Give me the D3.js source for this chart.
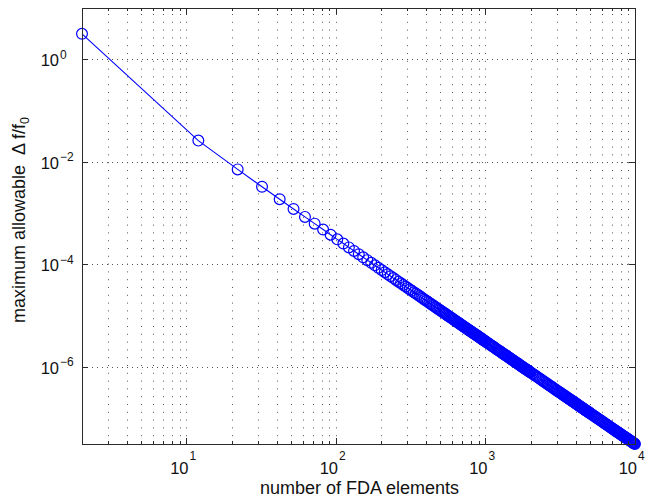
<!DOCTYPE html>
<html>
<head>
<meta charset="utf-8">
<script src="https://cdn.jsdelivr.net/npm/d3@7"></script>
<style>
  body { margin: 0; background: #fff; }
  svg { display: block; }
  text { font-family: "Liberation Sans", Arial, Helvetica, sans-serif; fill: #111; }
</style>
</head>
<body>
<svg id="chart" width="651" height="504"></svg>
<script>
// Number of FDA elements (x) and the largest tolerable relative detuning (y)
const elements = [
  2, 12, 22, 32, 42, 52, 62, 72, 82, 92,
  102, 112, 122, 132, 142, 152, 162, 172, 182, 192,
  202, 212, 222, 232, 242, 252, 262, 272, 282, 292,
  302, 312, 322, 332, 342, 352, 362, 372, 382, 392,
  402, 412, 422, 432, 442, 452, 462, 472, 482, 492,
  502, 512, 522, 532, 542, 552, 562, 572, 582, 592,
  602, 612, 622, 632, 642, 652, 662, 672, 682, 692,
  702, 712, 722, 732, 742, 752, 762, 772, 782, 792,
  802, 812, 822, 832, 842, 852, 862, 872, 882, 892,
  902, 912, 922, 932, 942, 952, 962, 972, 982, 992,
  1002, 1022, 1042, 1062, 1082, 1102, 1122, 1142, 1162, 1182,
  1202, 1222, 1242, 1262, 1282, 1302, 1322, 1342, 1362, 1382,
  1402, 1422, 1442, 1462, 1482, 1502, 1522, 1542, 1562, 1582,
  1602, 1622, 1642, 1662, 1682, 1702, 1722, 1742, 1762, 1782,
  1802, 1822, 1842, 1862, 1882, 1902, 1922, 1942, 1962, 1982,
  2002, 2052, 2102, 2152, 2202, 2252, 2302, 2352, 2402, 2452,
  2502, 2552, 2602, 2652, 2702, 2752, 2802, 2852, 2902, 2952,
  3002, 3052, 3102, 3152, 3202, 3252, 3302, 3352, 3402, 3452,
  3502, 3552, 3602, 3652, 3702, 3752, 3802, 3852, 3902, 3952,
  4002, 4052, 4102, 4152, 4202, 4252, 4302, 4352, 4402, 4452,
  4502, 4552, 4602, 4652, 4702, 4752, 4802, 4852, 4902, 4952,
  5002, 5102, 5202, 5302, 5402, 5502, 5602, 5702, 5802, 5902,
  6002, 6102, 6202, 6302, 6402, 6502, 6602, 6702, 6802, 6902,
  7002, 7102, 7202, 7302, 7402, 7502, 7602, 7702, 7802, 7902,
  8002, 8102, 8202, 8302, 8402, 8502, 8602, 8702, 8802, 8902,
  9002, 9102, 9202, 9302, 9402, 9502, 9602, 9702, 9802, 9902,
  9992
];
const tolerance = [
  3.14, 2.595e-2, 7.120e-3, 3.267e-3, 1.868e-3, 1.207e-3, 8.439e-4, 6.229e-4, 4.786e-4, 3.792e-4,
  3.078e-4, 2.549e-4, 2.145e-4, 1.830e-4, 1.579e-4, 1.377e-4, 1.211e-4, 1.074e-4, 9.585e-5, 8.607e-5,
  7.772e-5, 7.053e-5, 6.429e-5, 5.884e-5, 5.406e-5, 4.984e-5, 4.609e-5, 4.276e-5, 3.977e-5, 3.708e-5,
  3.466e-5, 3.246e-5, 3.047e-5, 2.866e-5, 2.700e-5, 2.549e-5, 2.409e-5, 2.281e-5, 2.163e-5, 2.054e-5,
  1.953e-5, 1.859e-5, 1.772e-5, 1.690e-5, 1.615e-5, 1.544e-5, 1.478e-5, 1.415e-5, 1.357e-5, 1.302e-5,
  1.251e-5, 1.203e-5, 1.157e-5, 1.114e-5, 1.073e-5, 1.034e-5, 9.977e-6, 9.631e-6, 9.302e-6, 8.990e-6,
  8.693e-6, 8.411e-6, 8.142e-6, 7.886e-6, 7.642e-6, 7.409e-6, 7.187e-6, 6.974e-6, 6.771e-6, 6.576e-6,
  6.390e-6, 6.211e-6, 6.040e-6, 5.876e-6, 5.719e-6, 5.567e-6, 5.422e-6, 5.282e-6, 5.148e-6, 5.019e-6,
  4.894e-6, 4.774e-6, 4.658e-6, 4.547e-6, 4.440e-6, 4.336e-6, 4.236e-6, 4.139e-6, 4.046e-6, 3.955e-6,
  3.868e-6, 3.784e-6, 3.702e-6, 3.623e-6, 3.546e-6, 3.472e-6, 3.400e-6, 3.330e-6, 3.263e-6, 3.197e-6,
  3.134e-6, 3.012e-6, 2.898e-6, 2.789e-6, 2.687e-6, 2.590e-6, 2.499e-6, 2.412e-6, 2.330e-6, 2.251e-6,
  2.177e-6, 2.106e-6, 2.039e-6, 1.975e-6, 1.914e-6, 1.855e-6, 1.799e-6, 1.746e-6, 1.695e-6, 1.646e-6,
  1.600e-6, 1.555e-6, 1.512e-6, 1.471e-6, 1.432e-6, 1.394e-6, 1.357e-6, 1.322e-6, 1.289e-6, 1.256e-6,
  1.225e-6, 1.195e-6, 1.166e-6, 1.138e-6, 1.111e-6, 1.085e-6, 1.060e-6, 1.036e-6, 1.013e-6, 9.899e-7,
  9.681e-7, 9.469e-7, 9.265e-7, 9.066e-7, 8.875e-7, 8.689e-7, 8.509e-7, 8.334e-7, 8.165e-7, 8.001e-7,
  7.842e-7, 7.465e-7, 7.113e-7, 6.787e-7, 6.482e-7, 6.197e-7, 5.931e-7, 5.681e-7, 5.447e-7, 5.227e-7,
  5.020e-7, 4.825e-7, 4.641e-7, 4.468e-7, 4.304e-7, 4.149e-7, 4.002e-7, 3.863e-7, 3.731e-7, 3.606e-7,
  3.487e-7, 3.373e-7, 3.265e-7, 3.163e-7, 3.065e-7, 2.971e-7, 2.882e-7, 2.796e-7, 2.715e-7, 2.637e-7,
  2.562e-7, 2.490e-7, 2.421e-7, 2.356e-7, 2.292e-7, 2.232e-7, 2.173e-7, 2.117e-7, 2.063e-7, 2.012e-7,
  1.962e-7, 1.913e-7, 1.867e-7, 1.822e-7, 1.779e-7, 1.738e-7, 1.697e-7, 1.659e-7, 1.621e-7, 1.585e-7,
  1.550e-7, 1.516e-7, 1.483e-7, 1.452e-7, 1.421e-7, 1.391e-7, 1.362e-7, 1.334e-7, 1.307e-7, 1.281e-7,
  1.255e-7, 1.207e-7, 1.161e-7, 1.117e-7, 1.076e-7, 1.038e-7, 1.001e-7, 9.661e-8, 9.331e-8, 9.017e-8,
  8.719e-8, 8.436e-8, 8.166e-8, 7.909e-8, 7.664e-8, 7.430e-8, 7.206e-8, 6.993e-8, 6.789e-8, 6.593e-8,
  6.406e-8, 6.227e-8, 6.055e-8, 5.891e-8, 5.733e-8, 5.581e-8, 5.435e-8, 5.295e-8, 5.160e-8, 5.030e-8,
  4.905e-8, 4.785e-8, 4.669e-8, 4.557e-8, 4.449e-8, 4.345e-8, 4.245e-8, 4.148e-8, 4.054e-8, 3.963e-8,
  3.876e-8, 3.791e-8, 3.709e-8, 3.630e-8, 3.553e-8, 3.479e-8, 3.406e-8, 3.337e-8, 3.269e-8, 3.203e-8,
  3.146e-8
];

// Decade exponents that carry a tick label
const xTickExponents = [1, 2, 3, 4];
const yTickExponents = [0, -2, -4, -6];

const xLabelText = "number of FDA elements";
const yLabelText = "maximum allowable  \u0394 f/f";
const yLabelSub = "0";

const svg = d3.select("#chart");
const W = 651, H = 504;
const m = { left: 82, right: 16, top: 8, bottom: 60 };
const x0 = m.left, x1 = W - m.right, y0 = m.top, y1 = H - m.bottom;

const x = d3.scaleLog().domain([d3.min(elements), 10000]).range([x0, x1]);
const y = d3.scaleLog().domain([d3.min(tolerance), 10]).range([y1, y0]);

const axisColor = "#2a2a2a";
const gridColor = "#555";

// Dotted grid: vertical at every x tick (major and minor), horizontal at labelled decades
const xTicks = x.ticks();
const grid = svg.append("g");
grid.selectAll("line.vg").data(xTicks).join("line")
  .attr("x1", d => Math.round(x(d)) + 0.5).attr("x2", d => Math.round(x(d)) + 0.5)
  .attr("y1", y1).attr("y2", y0)
  .attr("stroke", gridColor).attr("stroke-width", 1)
  .attr("stroke-dasharray", "1,6.8");
grid.selectAll("line.hg").data(yTickExponents).join("line")
  .attr("x1", x0).attr("x2", x1)
  .attr("y1", d => Math.round(y(Math.pow(10, d))) + 0.5)
  .attr("y2", d => Math.round(y(Math.pow(10, d))) + 0.5)
  .attr("stroke", gridColor).attr("stroke-width", 1)
  .attr("stroke-dasharray", "1,4");

// Data: line plus open circle markers
const pts = elements.map((e, i) => [e, tolerance[i]]);
svg.append("path")
  .datum(pts)
  .attr("fill", "none")
  .attr("stroke", "#0000ff")
  .attr("stroke-width", 1.1)
  .attr("d", d3.line().x(d => x(d[0])).y(d => y(d[1])));
svg.append("g").selectAll("circle").data(pts).join("circle")
  .attr("cx", d => x(d[0])).attr("cy", d => y(d[1]))
  .attr("r", 5.4)
  .attr("fill", "none")
  .attr("stroke", "#0000ff")
  .attr("stroke-width", 1.2);

// Axes box
svg.append("rect")
  .attr("x", x0 + 0.5).attr("y", y0 + 0.5)
  .attr("width", x1 - x0).attr("height", y1 - y0)
  .attr("fill", "none").attr("stroke", axisColor).attr("stroke-width", 1);

// Tick marks pointing inward on all four sides
const isMajor = d => Math.abs(Math.log10(d) - Math.round(Math.log10(d))) < 1e-9;
const ticks = svg.append("g").attr("stroke", axisColor).attr("stroke-width", 1);
xTicks.forEach(d => {
  const px = Math.round(x(d)) + 0.5;
  const len = isMajor(d) ? 6 : 3;
  ticks.append("line").attr("x1", px).attr("x2", px).attr("y1", y1).attr("y2", y1 - len);
  ticks.append("line").attr("x1", px).attr("x2", px).attr("y1", y0).attr("y2", y0 + len);
});
yTickExponents.forEach(e => {
  const py = Math.round(y(Math.pow(10, e))) + 0.5;
  ticks.append("line").attr("x1", x0).attr("x2", x0 + 6).attr("y1", py).attr("y2", py);
  ticks.append("line").attr("x1", x1).attr("x2", x1 - 6).attr("y1", py).attr("y2", py);
});

// Tick labels: 10 with a raised exponent
const fmtExp = e => (e < 0 ? "\u2212" + (-e) : String(e));
xTickExponents.forEach(e => {
  const px = x(Math.pow(10, e));
  svg.append("text").attr("x", px + 2).attr("y", y1 + 30)
    .attr("text-anchor", "end").attr("font-size", 16.5).text("10");
  svg.append("text").attr("x", px + 3).attr("y", y1 + 16)
    .attr("font-size", 12).text(fmtExp(e));
});
yTickExponents.forEach(e => {
  const py = y(Math.pow(10, e));
  svg.append("text").attr("x", 59).attr("y", py + 7)
    .attr("text-anchor", "end").attr("font-size", 16.5).text("10");
  svg.append("text").attr("x", 60).attr("y", py - 0.5)
    .attr("font-size", 12).text(fmtExp(e));
});

// Axis titles
svg.append("text")
  .attr("x", (x0 + x1) / 2 + 1).attr("y", 494)
  .attr("text-anchor", "middle").attr("font-size", 18)
  .text(xLabelText);

const yl = svg.append("text")
  .attr("transform", "translate(25," + 220 + ") rotate(-90)")
  .attr("text-anchor", "middle").attr("font-size", 18)
  .style("white-space", "pre");
yl.append("tspan").text(yLabelText);
yl.append("tspan").attr("dy", 4).attr("font-size", 12.5).text(yLabelSub);
</script>
</body>
</html>
